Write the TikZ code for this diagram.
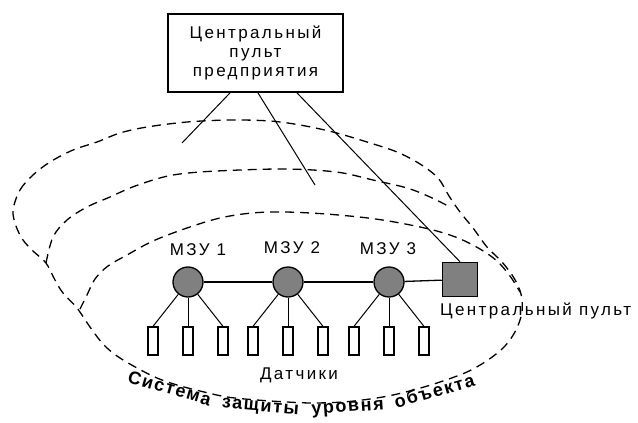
\documentclass[tikz,border=0pt]{standalone}
\usepackage{fontspec}
\setmainfont{Liberation Sans}[LetterSpace=14]
\newfontfamily\curvefont{Liberation Sans}[LetterSpace=9]
\definecolor{nodegray}{RGB}{128,128,128}
\begin{document}
\begin{tikzpicture}[x=1pt,y=-1pt,
  lbl/.style={font=\fontsize{17}{19}\selectfont, inner sep=0pt},
  cw/.style={font=\curvefont\bfseries\fontsize{18}{20}\selectfont, inner sep=0pt, anchor=base},
  box/.style={draw, line width=1.8pt, minimum width=175pt, minimum height=78pt, align=center, inner sep=0pt, font=\fontsize{17}{19}\selectfont},
  mzu/.style={circle, draw, fill=nodegray, line width=1.3pt, minimum size=30pt, inner sep=0pt},
  cpult/.style={rectangle, draw, fill=nodegray, line width=1.5pt, minimum width=35pt, minimum height=34pt, inner sep=0pt},
  sensor/.style={rectangle, draw, line width=1.3pt, minimum width=10pt, minimum height=28pt, inner sep=0pt},
  conn/.style={line width=1pt},
  wire/.style={line width=1.3pt},
  dsh/.style={dash pattern=on 9pt off 6pt, line width=1.3pt}
]
\useasboundingbox (0,0) rectangle (638,423);

% dashed level curves
\draw[dsh] plot[smooth cycle, tension=0.55] coordinates {
  (13,210) (20,190) (33,175) (50,162) (73,150) (97,142) (120,133) (147,127)
  (187,122) (230,120) (270,121) (300,125) (333,132) (367,142) (397,152)
  (420,164) (438,178) (449,196) (460,212) (473,228) (487,247) (502,262)
  (514,278) (521,294) (522,312) (516,330) (505,346) (488,360) (467,372)
  (440,382) (417,389) (393,395) (370,399) (343,402) (313,403) (287,402)
  (257,400) (227,397) (200,391) (177,385) (157,378) (137,368) (117,356)
  (103,344) (90,327) (77,308) (63,293) (55,280) (46,263) (33,251) (23,240) (16,226)};
\draw[dsh] plot[smooth, tension=0.55] coordinates {
  (46,263) (53,237) (67,220) (87,207) (110,197) (130,188) (153,180) (173,175)
  (200,172) (240,170) (280,169) (313,170) (343,173) (373,180) (407,188) (430,197) (450,207)};
\draw[dsh] plot[smooth, tension=0.55] coordinates {
  (80,309) (87,295) (95,279) (108,266) (127,255) (153,241) (187,228) (220,218)
  (252,213) (285,212) (326,214) (368,218) (400,223) (433,230) (458,238)
  (480,249) (497,261) (510,276) (520,292)};

% top box
\node[box] (pult) at (255.5,53) {Центральный\\пульт\\предприятия};

% MZU nodes and central console
\node[mzu] (m1) at (188,282) {};
\node[mzu] (m2) at (288,282) {};
\node[mzu] (m3) at (389,282) {};
\node[cpult] (cp) at (460,279.5) {};

\node[lbl, anchor=base] (l1) at (198,255) {МЗУ 1};
\node[lbl, anchor=base] (l2) at (292,253) {МЗУ 2};
\node[lbl, anchor=base] (l3) at (388,254) {МЗУ 3};
\node[lbl, anchor=base west] (cplbl) at (440,315) {Центральный пульт};

% sensors
\foreach \n/\x in {11/153,12/188,13/223,21/253,22/288,23/323,31/354,32/389,33/424}{
  \node[sensor] (s\n) at (\x,341) {};
}
\node[lbl, anchor=base] (dat) at (299,379) {Датчики};

% connectors
\draw[wire] (m1) -- (m2);
\draw[wire] (m2) -- (m3);
\draw[wire] (m3) -- (cp);
\foreach \m in {1,2,3}{
  \foreach \s in {1,2,3}{
    \draw[conn] (m\m) -- (s\m\s.north);
  }
}

\coordinate (e1) at (182,143);
\coordinate (e2) at (315,185);
\draw[conn] ([xshift=-25.5pt]pult.south) -- (e1);
\draw[conn] ([xshift=2.5pt]pult.south) -- (e2);
\draw[conn] ([xshift=41.5pt]pult.south) -- (cp.north);

% curved caption, word by word along the lower arc
\node[cw, rotate=-16] (w1) at (168,394) {Система};
\node[cw, rotate=-5]  (w2) at (260,411) {защиты};
\node[cw, rotate=4]   (w3) at (348,412) {уровня};
\node[cw, rotate=16]  (w4) at (436,397) {объекта};
\end{tikzpicture}
\end{document}
